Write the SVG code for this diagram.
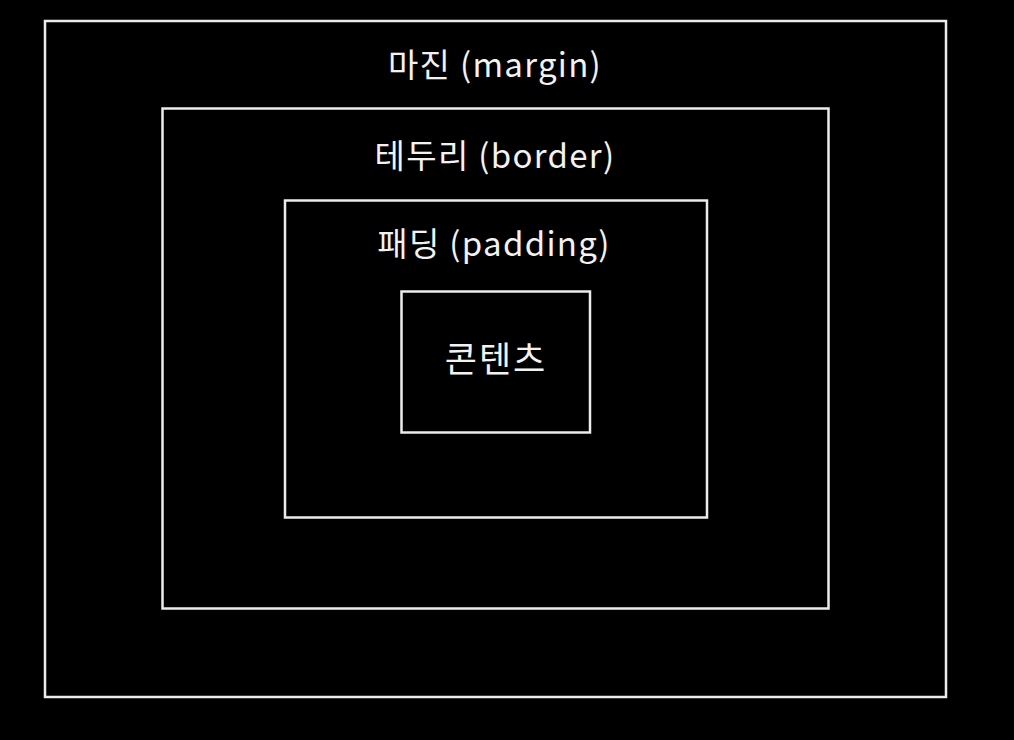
<svg xmlns="http://www.w3.org/2000/svg" width="1014" height="740" viewBox="0 0 1014 740">
<style>
.box{fill:none;stroke:#ececec;stroke-width:2.5}
.lbl{fill:#f2f2f2;font-family:"Noto Sans CJK KR","Noto Sans",sans-serif;font-size:33px;letter-spacing:1.3px;text-anchor:middle}
.big{font-size:35px;letter-spacing:2px}
</style>
<rect width="1014" height="740" fill="#000"/>
<g id="margin"><rect class="box" x="45" y="21" width="901" height="676"/><text class="lbl" x="495" y="77">마진 (margin)</text></g>
<g id="border"><rect class="box" x="162.5" y="108.5" width="666" height="500"/><text class="lbl" x="495" y="168">테두리 (border)</text></g>
<g id="padding"><rect class="box" x="285" y="200.5" width="422" height="317"/><text class="lbl" x="494" y="256">패딩 (padding)</text></g>
<g id="content"><rect class="box" x="401.5" y="291.5" width="188.5" height="141"/><text class="lbl big" x="496" y="372">콘텐츠</text></g>
<g id="connectors"/>
</svg>
